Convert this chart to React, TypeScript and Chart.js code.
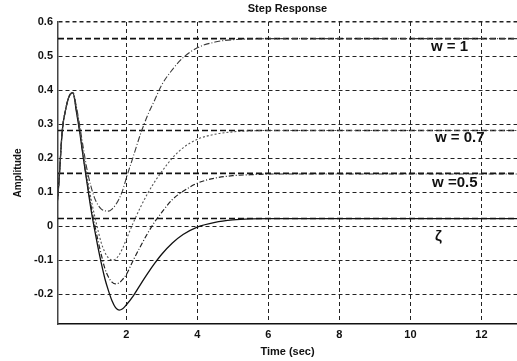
import React, { useEffect, useRef } from "react";
import { Chart, registerables } from "chart.js";

Chart.register(...registerables);

// Time samples (sec)
const time = [0, 0.1, 0.2, 0.3, 0.4, 0.5, 0.6, 0.7, 0.8, 0.9, 1.0, 1.1, 1.2, 1.3, 1.4, 1.5, 1.6, 1.7, 1.8, 1.9, 2.0, 2.2, 2.4, 2.6, 2.8, 3.0, 3.3, 3.6, 4.0, 4.5, 5.0, 5.5, 6.0, 7.0, 8.0, 10.0, 13.0];

// Step responses
const respW1 = [0, 0.12, 0.28, 0.345, 0.383, 0.392, 0.35, 0.29, 0.225, 0.165, 0.12, 0.085, 0.063, 0.05, 0.045, 0.044, 0.05, 0.062, 0.08, 0.105, 0.14, 0.205, 0.27, 0.325, 0.37, 0.415, 0.46, 0.495, 0.524, 0.541, 0.548, 0.55, 0.551, 0.551, 0.551, 0.551, 0.551];
const respW07 = [0, 0.12, 0.28, 0.345, 0.383, 0.392, 0.345, 0.28, 0.21, 0.145, 0.085, 0.035, -0.01, -0.05, -0.077, -0.094, -0.1, -0.097, -0.085, -0.065, -0.04, 0.01, 0.055, 0.095, 0.13, 0.16, 0.2, 0.23, 0.255, 0.27, 0.277, 0.28, 0.281, 0.281, 0.281, 0.281, 0.281];
const respW05 = [0, 0.12, 0.28, 0.345, 0.383, 0.392, 0.34, 0.275, 0.2, 0.13, 0.065, 0.01, -0.04, -0.085, -0.125, -0.15, -0.165, -0.17, -0.167, -0.157, -0.143, -0.1, -0.06, -0.022, 0.012, 0.04, 0.078, 0.102, 0.126, 0.141, 0.148, 0.151, 0.153, 0.153, 0.153, 0.153, 0.153];
const respZeta = [0, 0.12, 0.28, 0.345, 0.383, 0.392, 0.335, 0.27, 0.195, 0.125, 0.055, -0.005, -0.06, -0.11, -0.155, -0.19, -0.22, -0.24, -0.247, -0.243, -0.232, -0.205, -0.172, -0.14, -0.11, -0.083, -0.05, -0.025, -0.003, 0.011, 0.018, 0.021, 0.022, 0.022, 0.022, 0.022, 0.022];

// Steady-state reference levels (dashed)
const steadyLevels = [0.551, 0.281, 0.155, 0.022];

// Axis ticks and range
const xTicks = [2, 4, 6, 8, 10, 12];
const yTicks = [-0.2, -0.1, 0, 0.1, 0.2, 0.3, 0.4, 0.5, 0.6];
const X_MIN = 0.08;
const X_MAX = 13;
const Y_MIN = -0.288;
const Y_MAX = 0.6;

// Curve annotations (text, time, amplitude)
const labelTexts = ["w = 1", "w = 0.7", "w =0.5", "ζ"];
const labelTimes = [10.58, 10.69, 10.61, 10.69];
const labelValues = [0.526, 0.259, 0.126, -0.032];

const FONT = '"Liberation Sans", Arial, Helvetica, sans-serif';

const labelPlugin = {
  id: "curveLabels",
  afterDatasetsDraw(chart: any) {
    const { ctx, scales } = chart;
    const xs = scales.x;
    const ys = scales.y;
    ctx.save();
    ctx.font = `bold 15px ${FONT}`;
    ctx.fillStyle = "#111";
    ctx.textAlign = "left";
    ctx.textBaseline = "middle";
    labelTexts.forEach((t, i) => {
      ctx.fillText(t, xs.getPixelForValue(labelTimes[i]), ys.getPixelForValue(labelValues[i]));
    });
    ctx.restore();
  },
};

function series(values: number[]) {
  return time.map((t, i) => ({ x: t, y: values[i] }));
}

export default function App() {
  const ref = useRef<HTMLCanvasElement>(null);

  useEffect(() => {
    document.body.style.margin = "0";
    const curves = [
      { label: "w = 1", data: series(respW1), borderColor: "#3a3a3a", borderDash: [6, 2, 1, 2], borderWidth: 1.1 },
      { label: "w = 0.7", data: series(respW07), borderColor: "#555", borderDash: [2, 2], borderWidth: 1.1 },
      { label: "w = 0.5", data: series(respW05), borderColor: "#222", borderDash: [5, 2, 1, 2], borderWidth: 1.2 },
      { label: "zeta", data: series(respZeta), borderColor: "#111", borderDash: [], borderWidth: 1.3 },
    ].map((d) => ({
      ...d,
      pointRadius: 0,
      fill: false,
      cubicInterpolationMode: "monotone" as const,
    }));
    const steady = steadyLevels.map((v, i) => ({
      label: "ss" + i,
      data: [
        { x: X_MIN, y: v },
        { x: X_MAX, y: v },
      ],
      borderColor: "#111",
      borderDash: [6, 3],
      borderWidth: 1.6,
      pointRadius: 0,
      fill: false,
    }));

    const chart = new Chart(ref.current as HTMLCanvasElement, {
      type: "line",
      data: { datasets: [...curves, ...steady] as any },
      options: {
        animation: false,
        responsive: false,
        devicePixelRatio: 1,
        layout: { padding: 0 },
        plugins: {
          legend: { display: false },
          tooltip: { enabled: false },
          title: {
            display: true,
            text: "Step Response",
            fullSize: false,
            color: "#111",
            font: { family: FONT, size: 11, weight: "bold" },
            padding: { top: 2, bottom: 6.8 },
          },
        },
        scales: {
          x: {
            type: "linear",
            min: X_MIN,
            max: X_MAX,
            afterBuildTicks: (s: any) => {
              s.ticks = xTicks.map((v) => ({ value: v }));
            },
            afterFit: (s: any) => {
              s.height = 37;
            },
            ticks: {
              color: "#111",
              font: { family: FONT, size: 11, weight: "bold" },
              padding: 4,
              maxRotation: 0,
              autoSkip: false,
              callback: (v: any) => String(v),
            },
            grid: { color: "#222", lineWidth: 1, drawTicks: false },
            border: { display: true, color: "#111", width: 1.5, dash: [4, 3] },
            title: {
              display: true,
              text: "Time (sec)",
              color: "#111",
              font: { family: FONT, size: 11, weight: "bold" },
              padding: { top: 0, bottom: 2.4 },
            },
          },
          y: {
            type: "linear",
            min: Y_MIN,
            max: Y_MAX,
            afterBuildTicks: (s: any) => {
              s.ticks = yTicks.map((v) => ({ value: v }));
            },
            afterFit: (s: any) => {
              s.width = 58;
            },
            ticks: {
              color: "#111",
              font: { family: FONT, size: 11, weight: "bold" },
              padding: 5,
              autoSkip: false,
              callback: (v: any) => (Math.abs(v) < 1e-9 ? "0" : Number(v).toFixed(1)),
            },
            grid: {
              color: "#222",
              lineWidth: (c: any) => (c.tick && Math.abs(c.tick.value - Y_MAX) < 1e-9 ? 1.6 : 1),
              drawTicks: false,
            },
            border: { display: true, color: "#444", width: 1.5, dash: [4, 3] },
            title: {
              display: true,
              text: "Amplitude",
              color: "#111",
              font: { family: FONT, size: 10, weight: "bold" },
              padding: { top: 12, bottom: 0 },
            },
          },
        },
      },
      plugins: [labelPlugin],
    });
    return () => chart.destroy();
  }, []);

  return (
    <div style={{ width: 517, height: 361 }}>
      <canvas ref={ref} width={517} height={361} style={{ display: "block" }} />
    </div>
  );
}
